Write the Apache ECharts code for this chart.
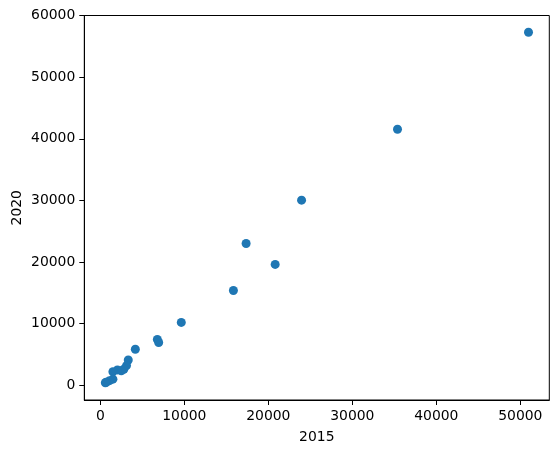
<!DOCTYPE html>
<html>
<head>
<meta charset="utf-8">
<script src="https://cdn.jsdelivr.net/npm/echarts@6/dist/echarts.min.js"></script>
<style>html,body{margin:0;padding:0;background:#fff;}#c{width:558px;height:453px;}</style>
</head>
<body>
<div id="c"></div>
<script>
// Values (x = 2015, y = 2020)
var x2015 = [50976, 35381, 23960, 17360, 20820, 15845, 9640, 6790, 6950, 4170, 3330, 3120, 2800, 2500, 2040, 1500, 1500, 1100, 700, 600];
var y2020 = [57277, 41538, 30040, 23000, 19620, 15380, 10200, 7450, 6950, 5840, 4100, 3200, 2600, 2350, 2500, 2200, 1000, 750, 500, 420];
var xTicks = [0, 10000, 20000, 30000, 40000, 50000];
var yTicks = [0, 10000, 20000, 30000, 40000, 50000, 60000];
var xName = '2015';
var yName = '2020';

var points = x2015.map(function (v, i) { return [v, y2020[i]]; });
var font = 'DejaVu Sans';
var plain = function (v) { return String(v); };
var chart = echarts.init(document.getElementById('c'), null, {renderer: 'canvas'});
chart.setOption({
  animation: false,
  backgroundColor: '#fff',
  grid: {left: 84.3, right: 8.7, top: 15.5, bottom: 53, containLabel: false, outerBoundsMode: 'none',
         show: true, borderColor: '#000', borderWidth: 1, backgroundColor: 'transparent'},
  xAxis: {
    type: 'value', min: -1905, max: 53452,
    name: xName, nameLocation: 'middle', nameGap: 30, nameMoveOverlap: false,
    nameTextStyle: {fontFamily: font, fontSize: 13.9, color: '#000'},
    axisLine: {show: true, onZero: false, lineStyle: {color: '#000', width: 1}},
    axisTick: {show: true, length: 5, lineStyle: {color: '#000'}, customValues: xTicks},
    axisLabel: {fontFamily: font, fontSize: 13.9, color: '#000', margin: 9, customValues: xTicks, formatter: plain},
    splitLine: {show: false}
  },
  yAxis: {
    type: 'value', min: -2385, max: 60000,
    name: yName, nameLocation: 'middle', nameGap: 60, nameRotate: 90, nameMoveOverlap: false,
    nameTextStyle: {fontFamily: font, fontSize: 13.9, color: '#000'},
    axisLine: {show: true, onZero: false, lineStyle: {color: '#000', width: 1}},
    axisTick: {show: true, length: 5, lineStyle: {color: '#000'}, customValues: yTicks},
    axisLabel: {fontFamily: font, fontSize: 13.9, color: '#000', margin: 9, customValues: yTicks, formatter: plain},
    splitLine: {show: false}
  },
  series: [{
    type: 'scatter',
    data: points,
    symbol: 'circle',
    symbolSize: 9,
    itemStyle: {color: '#1f77b4', opacity: 1}
  }]
});
</script>
</body>
</html>
